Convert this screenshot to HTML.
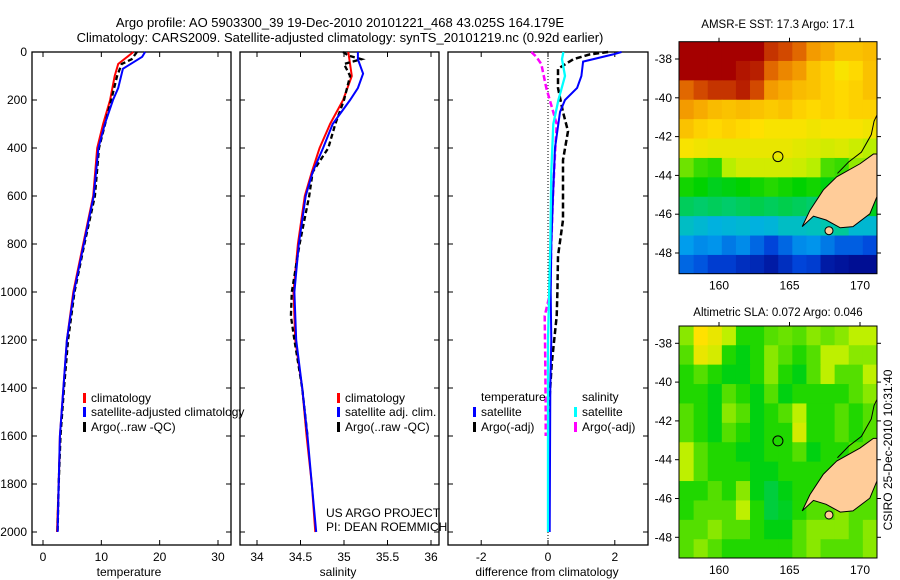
<!DOCTYPE html>
<html><head><meta charset="utf-8"><style>
body{margin:0;background:#fff;}
svg{display:block;font-family:"Liberation Sans",sans-serif;}
</style></head><body>
<svg id="fig" width="900" height="580" viewBox="0 0 900 580" xmlns="http://www.w3.org/2000/svg">
<rect width="900" height="580" fill="#fff"/>
<text x="340" y="27" font-size="13" text-anchor="middle">Argo profile: AO 5903300_39 19-Dec-2010 20101221_468 43.025S 164.179E</text>
<text x="340" y="42" font-size="13" text-anchor="middle">Climatology: CARS2009. Satellite-adjusted climatology: synTS_20101219.nc (0.92d earlier)</text>
<g id="plots"></g>
<text x="778" y="28" font-size="11.5" text-anchor="middle">AMSR-E SST: 17.3 Argo: 17.1</text>
<text x="778" y="316" font-size="11.5" text-anchor="middle">Altimetric SLA: 0.072 Argo: 0.046</text>
<text transform="translate(892,450) rotate(-90)" font-size="12" text-anchor="middle">CSIRO 25-Dec-2010 10:31:40</text>
<text x="326" y="517" font-size="12">US ARGO PROJECT</text>
<text x="326" y="531" font-size="12">PI: DEAN ROEMMICH</text>
</svg>
<script>
// ---- profile data (depth dbar, value) ----
const tClimDepth=[0,50,100,200,300,400,600,800,1000,1200,1400,1600,1800,2000];
const tClimVal=[15.5,12.9,12.3,11.5,10.3,9.3,8.6,6.9,5.2,4.1,3.5,2.9,2.7,2.4];
const tSatDepth=[0,20,70,150,200,300,400,600,800,1000,1200,1400,1600,1800,2000];
const tSatVal=[17.5,17,13.7,12.9,12,10.6,9.5,8.7,7,5.3,4.1,3.5,2.9,2.7,2.5];
const tArgoDepth=[0,30,50,100,200,400,600,800,1000,1200,1400,1600,1800,2000];
const tArgoVal=[16.1,15.2,13.5,12.7,11.7,9.6,8.9,7.1,5.4,4.3,3.6,3,2.7,2.5];
const sClimDepth=[0,100,200,300,400,500,600,800,1000,1200,1400,1600,1800,2000];
const sClimVal=[35.05,35.09,34.99,34.84,34.72,34.63,34.55,34.47,34.42,34.44,34.52,34.57,34.63,34.67];
const sSatDepth=[0,30,90,150,200,300,400,500,600,800,1000,1200,1400,1600,1800,2000];
const sSatVal=[35.16,35.16,35.22,35.16,35.07,34.87,34.76,34.64,34.56,34.48,34.43,34.45,34.52,34.58,34.63,34.68];
const sArgoDepth=[0,15,30,50,100,200,300,400,500,600,800,1000,1100,1200,1400,1600];
const sArgoVal=[34.99,35.05,35.2,35.0,35.07,35.0,34.9,34.82,34.64,34.6,34.49,34.4,34.39,34.43,34.52,34.58];
const dTSatDepth=[0,10,40,100,150,200,250,400,600,800,1000,1200,1400,2000];
const dTSatVal=[2.2,1.95,1.05,1.0,0.87,0.51,0.36,0.21,0.15,0.1,0.08,0.1,0.07,0.05];
const dTArgoDepth=[0,10,30,70,150,250,330,450,600,700,850,1000,1100,1300,1500];
const dTArgoVal=[1.8,1.25,0.76,0.3,0.3,0.45,0.6,0.45,0.45,0.45,0.3,0.28,0.26,0.11,0.02];
const dSSatDepth=[0,30,100,200,300,500,800,1200,2000];
const dSSatVal=[0.46,0.42,0.51,0.31,0.16,0.1,0.07,0.0,0.0];
const dSArgoDepth=[0,20,50,150,300,450,600,800,1000,1100,1300,1500,1600];
const dSArgoVal=[-0.5,-0.35,-0.2,-0.05,0.26,0.2,0.15,0.1,0.07,-0.1,-0.08,-0.07,-0.07];
const tempTicks=[0,10,20,30], salTicks=[34,34.5,35,35.5,36], diffTicks=[-2,0,2];
const depthTicks=[0,200,400,600,800,1000,1200,1400,1600,1800,2000];
// ---- map data ----
const mapLons=[157.2,158.2,159.2,160.2,161.2,162.2,163.2,164.2,165.2,166.2,167.2,168.2,169.2,170.2];
const mapLats=[-37.1,-38.1,-39.1,-40.1,-41.1,-42.1,-43.1,-44.1,-45.1,-46.1,-47.1,-48.1];
const sstGrid=[
[19.5,19.5,19.5,19.5,19.5,19.5,19,18.8,18.5,18,17.8,17.5,17.5,17.6],
[19.5,19.5,19.5,19.5,19.3,19.2,18.5,18.2,18,17.5,17.3,17,17.2,17.5],
[18.5,18.8,19,19,19.2,18.8,18,17.8,17.6,17.5,17.3,17.2,17.3,17.5],
[18,17.8,17.6,17.5,17.6,17.5,17.4,17.5,17.3,17.2,17.3,17.2,17.3,17.3],
[17.5,17.3,17.2,17.3,17.2,17.1,17,17,17,16.9,17,17,17,16.9],
[17,16.9,16.8,16.8,16.8,16.8,16.8,16.8,16.7,16.6,16.5,16.6,16.4,16.2],
[15.8,15.5,15.4,16.2,16.5,16.5,16.5,16.5,16.4,16.2,15.6,15.5,16,16],
[15.3,15.2,15,15.1,15.2,15.3,15.4,15.3,15.2,15.3,15.1,15.5,15.3,15.3],
[14.6,14.5,14.6,14.5,14.6,14.7,14.6,14.7,14.6,14.5,14.4,15,15,15],
[13.7,13.5,13.3,13.4,13.5,13.3,13.4,13.7,13.7,13.8,14,14.2,13.5,13.5],
[12.9,12.7,12.8,12.5,12.7,12.3,11.9,12.3,12.7,12.8,12.5,12.2,12.2,12],
[12.3,12.1,11.8,11.8,11.6,11.5,11.3,11.6,11.9,11.8,11.3,11.2,11.1,11.1]];
const slaGrid=[
[.15,.35,.3,.2,.05,.05,.1,.12,.1,.15,.12,.15,.2,.2],
[.1,.3,.25,.05,0,.05,.15,.1,.05,.1,.2,.2,.15,.15],
[.05,.1,.05,0,0,.05,.15,.05,0,.1,.2,.1,.1,.2],
[.05,.05,0,.1,.05,0,.1,0,.05,.05,.05,.05,.1,.15],
[.1,.05,0,.15,.1,0,.05,.1,.2,.05,.05,.1,.05,.1],
[.1,.05,0,.1,.05,0,.05,.05,.25,.05,.05,.1,.05,.1],
[.2,.1,.05,.05,0,0,.05,.05,.1,0,.05,.05,.1,.1],
[.2,.1,.05,.05,.05,0,0,.05,.05,.05,.05,.1,.1,.1],
[.05,.05,.1,.05,.15,0,-.05,0,.05,.05,.1,.1,.1,.1],
[.05,.1,.1,.1,.2,.05,-.05,-.02,.05,.1,.1,.15,.1,.1],
[.1,.1,.15,.1,.1,.05,0,0,.1,.15,.15,.15,.1,.15],
[.1,.15,.1,.05,.05,.05,.05,.05,.1,.15,.1,.1,.1,.15]];
const landLon=[165.9,166.45,167.4,168.35,170.0,170.95,171.2,171.2,170.7,169.5,168.6,167.6,166.7];
const landLat=[-46.64,-45.8,-44.75,-44.07,-43.4,-42.9,-42.9,-45.1,-45.98,-46.64,-46.7,-46.3,-46.1];
const coastLon=[168.4,169.2,170.1,170.8,171.0,171.2];
const coastLat=[-43.9,-43.3,-42.8,-41.9,-41.2,-40.9];
const mapLonTicks=[160,165,170], mapLatTicks=[-38,-40,-42,-44,-46,-48];
const argoLon=164.18, argoLat=-43.03;

const NS="http://www.w3.org/2000/svg";
const root=document.getElementById('plots');
function mk(tag,attrs,parent){const e=document.createElementNS(NS,tag);for(const k in attrs)e.setAttribute(k,attrs[k]);(parent||root).appendChild(e);return e;}
const depthY=d=>52+d*0.24;

function panel(name,x0,x1,xf,ticks,label,lx){
  const g=mk('g',{});
  
  
  const r=mk('rect',{x:x0,y:52,width:x1-x0,height:493,fill:'none',stroke:'#000','stroke-width':1.3},g);
  
  
  depthTicks.forEach(d=>{
    mk('line',{x1:x0,x2:x0+5,y1:depthY(d),y2:depthY(d),stroke:'#000'},g);
    mk('line',{x1:x1,x2:x1-5,y1:depthY(d),y2:depthY(d),stroke:'#000'},g);
  });
  ticks.forEach(v=>{
    const x=xf(v);
    mk('line',{x1:x,x2:x,y1:545,y2:540,stroke:'#000'},g);
    mk('line',{x1:x,x2:x,y1:52,y2:57,stroke:'#000'},g);
    const t=mk('text',{x:x,y:561,'font-size':12,'text-anchor':'middle'},g);
    t.textContent=String(v);
    
    
  });
  const t=mk('text',{x:lx,y:576,'font-size':12,'text-anchor':'middle'},g);
  t.textContent=label;
  
  
  return g;
}
function line(g,name,depths,vals,xf,color,dash,w){
  const pts=depths.map((d,i)=>xf(vals[i]).toFixed(1)+','+depthY(d).toFixed(1)).join(' ');
  const p=mk('polyline',{points:pts,fill:'none',stroke:color,'stroke-width':w||2,'stroke-dasharray':dash||'none'},g);
  
  
}
function legend(g,name,x,y,color,text){
  mk('rect',{x:x,y:y-9,width:3,height:10,fill:color},g);
  const t=mk('text',{x:x+8,y:y,'font-size':12},g);
  t.textContent=text;
  
  
}
depthTicks.forEach(d=>{
  const t=mk('text',{x:27,y:depthY(d)+4,'font-size':12,'text-anchor':'end'});
  t.textContent=String(d);
  
  
});
const tx=v=>43+v*5.833;
let g=panel('temperature',32,231,tx,tempTicks,'temperature',129);
line(g,'temp-climatology-line',tClimDepth,tClimVal,tx,'#f00');
line(g,'temp-argo-line',tArgoDepth,tArgoVal,tx,'#000','5,3',2.3);
line(g,'temp-satellite-line',tSatDepth,tSatVal,tx,'#00f');
legend(g,'legend-climatology',83,402,'#f00','climatology');
legend(g,'legend-satellite-adjusted',83,416,'#00f','satellite-adjusted climatology');
legend(g,'legend-argo',83,431,'#000','Argo(..raw -QC)');
const sx=v=>257+(v-34)*87;
g=panel('salinity',240,439,sx,salTicks,'salinity',338);
line(g,'sal-climatology-line',sClimDepth,sClimVal,sx,'#f00');
line(g,'sal-argo-line',sArgoDepth,sArgoVal,sx,'#000','5,3',2.3);
line(g,'sal-satellite-line',sSatDepth,sSatVal,sx,'#00f');
legend(g,'sal-legend-climatology',337,402,'#f00','climatology');
legend(g,'sal-legend-satellite',337,416,'#00f','satellite adj. clim.');
legend(g,'sal-legend-argo',337,431,'#000','Argo(..raw -QC)');
const dx=v=>548+v*33.4;
g=panel('difference',448,648,dx,diffTicks,'difference from climatology',547);
mk('line',{x1:dx(0),x2:dx(0),y1:52,y2:545,stroke:'#000','stroke-dasharray':'1,2','stroke-width':1},g);
line(g,'diff-temp-argo-line',dTArgoDepth,dTArgoVal,dx,'#000','6,3',2.5);
line(g,'diff-sal-argo-line',dSArgoDepth,dSArgoVal,dx,'#f0f','6,3',2.5);
line(g,'diff-temp-satellite-line',dTSatDepth,dTSatVal,dx,'#00f');
line(g,'diff-sal-satellite-line',dSSatDepth,dSSatVal,dx,'#0ff',null,2.3);
let tt=mk('text',{x:481,y:401,'font-size':12},g);tt.textContent='temperature';


tt=mk('text',{x:582,y:401,'font-size':12},g);tt.textContent='salinity';


legend(g,'diff-legend-temp-satellite',473,416,'#00f','satellite');
legend(g,'diff-legend-temp-argo',473,431,'#000','Argo(-adj)');
legend(g,'diff-legend-sal-satellite',574,416,'#0ff','satellite');
legend(g,'diff-legend-sal-argo',574,431,'#f0f','Argo(-adj)');

const cmStops=[0,0.12,0.25,0.37,0.5,0.62,0.72,0.82,0.9,1];
const cmCols=[[0,0,130],[0,70,220],[0,170,240],[0,200,170],[0,210,0],[190,240,0],[255,225,0],[245,160,0],[220,90,0],[165,0,0]];
function cmap(t){t=Math.max(0,Math.min(1,t));
  for(let i=1;i<cmStops.length;i++){if(t<=cmStops[i]){const f=(t-cmStops[i-1])/(cmStops[i]-cmStops[i-1]);const a=cmCols[i-1],b=cmCols[i];
    return `rgb(${Math.round(a[0]+f*(b[0]-a[0]))},${Math.round(a[1]+f*(b[1]-a[1]))},${Math.round(a[2]+f*(b[2]-a[2]))})`;}}
  return 'rgb(165,0,0)';}
function map(name,top,grid,vmin,vmax){
  const left=679,right=877,bottom=top+232;
  const lx=lon=>719+(lon-160)*14.1;
  const ly=lat=>top+17.3-(lat+38)*19.4;
  const g=mk('g',{});
  
  
  const clip=mk('clipPath',{id:name+'-clip'},g);
  mk('rect',{x:left,y:top,width:right-left,height:bottom-top},clip);
  const cg=mk('g',{'clip-path':`url(#${name}-clip)`},g);
  grid.forEach((row,i)=>row.forEach((v,j)=>{
    const c=mk('rect',{x:lx(mapLons[j]),y:ly(mapLats[i]),width:14.6,height:20,fill:cmap((v-vmin)/(vmax-vmin))},cg);
    
    
  }));
  const land=mk('polygon',{points:landLon.map((l,i)=>lx(l)+','+ly(landLat[i])).join(' '),fill:'#fc9',stroke:'#000','stroke-width':1},cg);
  
  
  mk('ellipse',{cx:lx(167.8),cy:ly(-46.85),rx:4,ry:4,fill:'#fc9',stroke:'#000'},cg);
  const cl=mk('polyline',{points:coastLon.map((l,i)=>lx(l)+','+ly(coastLat[i])).join(' '),fill:'none',stroke:'#000','stroke-width':1},cg);
  
  
  const m=mk('circle',{cx:lx(argoLon),cy:ly(argoLat),r:5,fill:'none',stroke:'#000','stroke-width':1},g);
  
  
  mk('rect',{x:left,y:top,width:right-left,height:bottom-top,fill:'none',stroke:'#000','stroke-width':1},g);
  mapLonTicks.forEach(l=>{
    mk('line',{x1:lx(l),x2:lx(l),y1:top,y2:top-4,stroke:'#000'},g);
    const t=mk('text',{x:lx(l),y:bottom+16,'font-size':12,'text-anchor':'middle'},g);
    t.textContent=String(l);
    
    
  });
  mapLatTicks.forEach(l=>{
    mk('line',{x1:right,x2:right+4,y1:ly(l),y2:ly(l),stroke:'#000'},g);
    mk('line',{x1:left,x2:left-4,y1:ly(l),y2:ly(l),stroke:'#000'},g);
    const t=mk('text',{x:672,y:ly(l)+4,'font-size':12,'text-anchor':'end'},g);
    t.textContent=String(l);
    
    
  });
}
map('sst-map',41.7,sstGrid,10.9,19.5);
map('sla-map',326,slaGrid,-0.73,0.77);
</script>
</body></html>
